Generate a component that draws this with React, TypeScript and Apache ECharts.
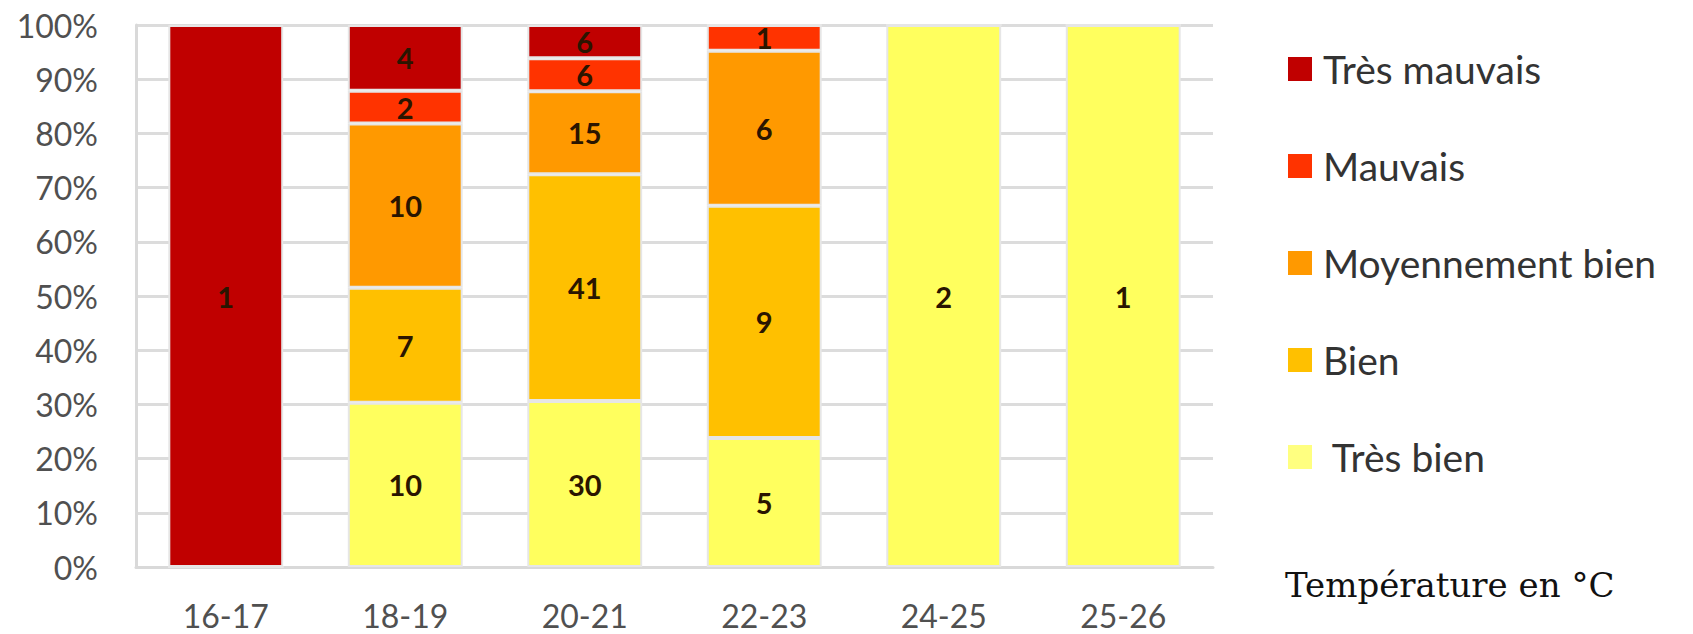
import React, { useEffect, useRef } from "react";
import * as echarts from "echarts";

const categories = ["16-17", "18-19", "20-21", "22-23", "24-25", "25-26"];
const tresBien = [0, 10, 30, 5, 2, 1];
const bien = [0, 7, 41, 9, 0, 0];
const moyennementBien = [0, 10, 15, 6, 0, 0];
const mauvais = [0, 2, 6, 1, 0, 0];
const tresMauvais = [1, 4, 6, 0, 0, 0];
const yTicks = [0, 10, 20, 30, 40, 50, 60, 70, 80, 90, 100];

const seriesDefs = [
  { name: "Très bien", values: tresBien, color: "#FFFF5E", legendColor: "#FFFF80" },
  { name: "Bien", values: bien, color: "#FFC000", legendColor: "#FFC000" },
  { name: "Moyennement bien", values: moyennementBien, color: "#FF9900", legendColor: "#FF9900" },
  { name: "Mauvais", values: mauvais, color: "#FF3300", legendColor: "#FF3300" },
  { name: "Très mauvais", values: tresMauvais, color: "#C00000", legendColor: "#C00000" },
];

export default function App() {
  const ref = useRef<HTMLDivElement>(null);
  useEffect(() => {
    if (!ref.current) return;
    const chart = echarts.init(ref.current, null, { renderer: "svg" });
    const totals = categories.map((_, i) =>
      seriesDefs.reduce((s, d) => s + d.values[i], 0)
    );
    const axisFont = "Lato, 'Open Sans', sans-serif";
    chart.setOption({
      animation: false,
      backgroundColor: "#ffffff",
      grid: { left: 136, right: 480, top: 25, bottom: 67, containLabel: false },
      legend: {
        orient: "vertical",
        left: 1283,
        top: 42,
        itemWidth: 24,
        itemHeight: 24,
        itemGap: 53,
        icon: "rect",
        data: [...seriesDefs].reverse().map((d) => ({
          name: d.name,
          itemStyle: { color: d.legendColor, borderWidth: 0 },
        })),
        formatter: (name: string) => (name === "Très bien" ? " " + name : name),
        textStyle: {
          fontFamily: axisFont,
          fontSize: 39,
          lineHeight: 44,
          color: "#333333",
          padding: [0, 0, 0, 6],
        },
        selectedMode: false,
      },
      graphic: [
        {
          type: "text",
          left: 1285,
          top: 568,
          style: {
            text: "Température en °C",
            font: "34px 'DejaVu Serif', serif",
            fill: "#111111",
          },
        },
      ],
      xAxis: {
        type: "category",
        data: categories,
        axisLine: { show: true, lineStyle: { color: "#d9d9d9", width: 3 } },
        axisTick: { show: false },
        axisLabel: {
          fontFamily: axisFont,
          fontSize: 32,
          lineHeight: 30,
          color: "#505050",
          margin: 33,
        },
      },
      yAxis: {
        type: "value",
        min: yTicks[0],
        max: yTicks[yTicks.length - 1],
        interval: 10,
        axisLine: { show: true, lineStyle: { color: "#d9d9d9", width: 3 } },
        axisTick: { show: false },
        splitLine: { show: true, lineStyle: { color: "#dcdcdc", width: 3 } },
        axisLabel: {
          fontFamily: axisFont,
          fontSize: 32,
          color: "#505050",
          margin: 38,
          formatter: (v: number) => v + "%",
        },
      },
      series: seriesDefs.map((d) => ({
        name: d.name,
        type: "bar",
        stack: "total",
        barWidth: "64%",
        itemStyle: { color: d.color, borderColor: "#e6e6e6", borderWidth: 2 },
        label: {
          show: true,
          position: "inside",
          fontFamily: axisFont,
          fontWeight: "bold",
          fontSize: 29,
          color: "#2a1500",
          formatter: (p: any) => (d.values[p.dataIndex] > 0 ? String(d.values[p.dataIndex]) : ""),
        },
        data: d.values.map((v, i) => (totals[i] ? (v / totals[i]) * 100 : 0)),
      })),
    });
    return () => chart.dispose();
  }, []);
  return (
    <div
      ref={ref}
      style={{ position: "fixed", left: 0, top: 0, width: 1693, height: 634 }}
    />
  );
}
